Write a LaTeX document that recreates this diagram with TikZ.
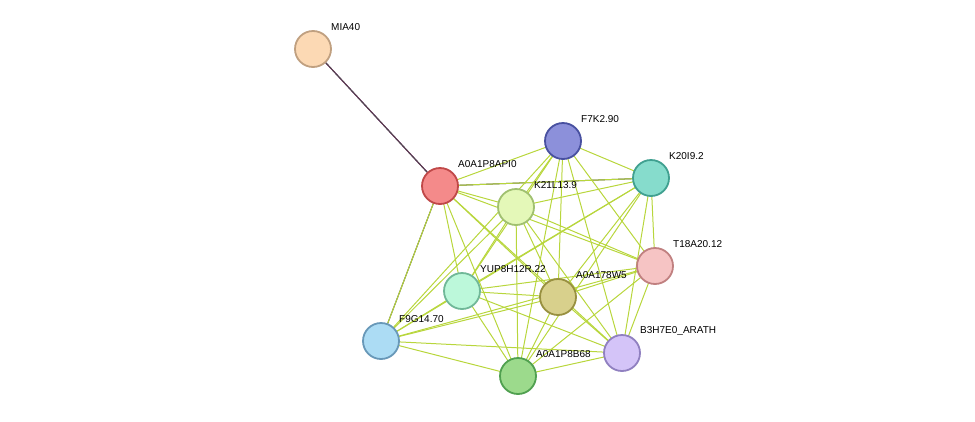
\documentclass[tikz,border=0pt]{standalone}
\usepackage{fontspec}
\setmainfont{Liberation Sans}
\begin{document}
\begin{tikzpicture}[x=1pt,y=-1pt,
  prot/.style={circle,minimum size=36pt,inner sep=0pt,line width=1.8pt},
  lab/.style={anchor=west,font=\fontsize{10}{12}\selectfont,inner sep=0pt},
  ed/.style={draw=yellowg,line width=1pt}]
\definecolor{yellowg}{HTML}{B8D63C}
\useasboundingbox (0,0) rectangle (975,421);
\def\pts{MIA40/313/49/FCD9B4/C0A080/MIA40,
API/440/186/F48A8A/C04848/A0A1P8API0,
F7K/563/141/8C90DA/4850A0/F7K2.90,
K20/651/178/86DCCC/40A090/K20I9.2,
K21/516/207/E4F8B8/A0C070/K21L13.9,
T18/655/266/F6C4C4/C08080/T18A20.12,
YUP/462/291/BCF8DA/70B898/YUP8H12R.22,
W5/558/297/D8D08C/989040/A0A178W5,
F9G/381/341/ACDCF4/6898B8/F9G14.70,
B3H/622/353/D4C4F8/9080C0/B3H7E0\_ARATH,
B68/518/376/9CDA8C/50A050/A0A1P8B68}
\foreach \n/\x/\y/\f/\d/\t in \pts {
  \coordinate (\n) at (\x,\y);
}
% MIA40 edge
\foreach \k/\c in {1.5/yellowg,0.5/cyan!80!blue,-0.5/magenta,-1.5/black!70}
  \draw[draw=\c,line width=1pt,xshift=0.73*\k pt,yshift=0.68*\k pt] (MIA40) -- (API);
% black edges
\draw[black!75,line width=1pt,xshift=-0.9pt,yshift=-0.3pt] (API) -- (F9G);
\draw[yellowg,line width=1pt,xshift=0.9pt,yshift=0.3pt] (API) -- (F9G);
\draw[black!75,line width=1pt,yshift=0.8pt] (API) -- (K20);
\draw[yellowg,line width=1pt,yshift=-0.8pt] (API) -- (K20);
\foreach \a/\b in {API/F7K,API/K21,API/T18,API/YUP,API/W5,API/B3H,API/B68,
 F7K/K20,F7K/K21,F7K/T18,F7K/YUP,F7K/W5,F7K/F9G,F7K/B3H,F7K/B68,
 K20/K21,K20/T18,K20/YUP,K20/W5,K20/F9G,K20/B3H,K20/B68,
 K21/T18,K21/YUP,K21/W5,K21/F9G,K21/B3H,K21/B68,
 T18/YUP,T18/W5,T18/F9G,T18/B3H,T18/B68,
 YUP/W5,YUP/F9G,YUP/B3H,YUP/B68,
 W5/F9G,W5/B3H,W5/B68,F9G/B3H,F9G/B68,B3H/B68}
  \draw[ed] (\a) -- (\b);
\foreach \n/\x/\y/\f/\d/\t in \pts {
  \definecolor{ff}{HTML}{\f}\definecolor{dd}{HTML}{\d}
  \node[prot,fill=ff,draw=dd] (n\n) at (\x,\y) {};
  \node[lab] (l\n) at (\x+18,\y-22) {\t};
}
\end{tikzpicture}
\end{document}
